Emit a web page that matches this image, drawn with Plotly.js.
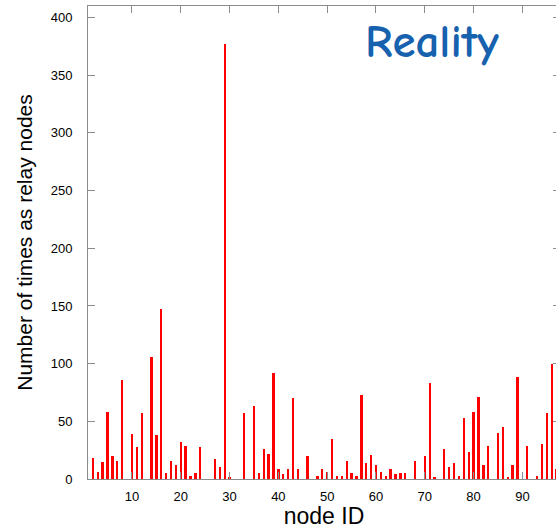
<!DOCTYPE html>
<html>
<head>
<meta charset="utf-8">
<script src="https://cdn.plot.ly/plotly-3.0.1.min.js"></script>
<style>
html, body { margin: 0; padding: 0; overflow: hidden; background: #fff; }
#chart { width: 564px; height: 529px; }
</style>
</head>
<body>
<div id="chart"></div>
<script>
// node IDs and number of times each served as a relay node
const nodeIds = [2, 3, 4, 5, 6, 7, 8, 10, 11, 12, 14, 15, 16, 17, 18, 19, 20, 21, 22, 23, 24,
  27, 28, 29, 30, 33, 35, 36, 37, 38, 39, 40, 41, 42, 43, 44, 46, 48, 49, 50,
  51, 52, 53, 54, 55, 56, 57, 58, 59, 60, 61, 62, 63, 64, 65, 66, 68, 70, 71, 72,
  74, 75, 76, 77, 78, 79, 80, 81, 82, 83, 85, 86, 87, 88, 89, 91, 93, 94, 95, 96, 97];
const relayCounts = [18, 6, 15, 58, 20, 16, 86, 39, 28, 57, 106, 38, 147, 5, 16, 12, 32, 29, 3, 5, 28,
  17, 10, 377, 2, 57, 63, 5, 26, 22, 92, 9, 4, 9, 70, 9, 20, 3, 9, 6,
  35, 3, 3, 16, 5, 3, 73, 14, 21, 12, 6, 3, 9, 4, 5, 5, 16, 20, 83, 2,
  26, 10, 14, 3, 53, 23, 58, 71, 12, 29, 40, 45, 2, 12, 88, 29, 3, 30, 57, 100, 9];
const yTicks = [0, 50, 100, 150, 200, 250, 300, 350, 400];
const xTicks = [10, 20, 30, 40, 50, 60, 70, 80, 90];
const chartTitle = "Reality";
const xTitle = "node ID";
const yTitle = "Number of times as relay nodes";

const font = "Liberation Sans, Arial, Helvetica, sans-serif";
const frame = "#8c8c8c";

const trace = {
  type: "bar",
  x: nodeIds,
  y: relayCounts,
  width: 0.48,
  marker: { color: "#ff0000", line: { width: 0 } },
  hoverinfo: "x+y"
};

const layout = {
  width: 564,
  height: 529,
  margin: { l: 88, r: 4, t: 6, b: 50, pad: 0 },
  paper_bgcolor: "#ffffff",
  plot_bgcolor: "#ffffff",
  showlegend: false,
  bargap: 0,
  font: { family: font, color: "#000" },
  xaxis: {
    range: [1, 97.7],
    tickmode: "array",
    tickvals: xTicks,
    ticktext: xTicks.map(String),
    ticks: "inside",
    ticklen: 7,
    tickwidth: 1,
    tickcolor: frame,
    showline: true,
    linecolor: frame,
    linewidth: 1,
    mirror: "ticks",
    showgrid: false,
    zeroline: false,
    ticklabelstandoff: 5,
    tickfont: { size: 13, family: font, color: "#000" },
    title: { text: xTitle, font: { size: 23, family: font, color: "#000" }, standoff: 2 }
  },
  yaxis: {
    range: [0, 410],
    tickmode: "array",
    tickvals: yTicks,
    ticktext: yTicks.map(String),
    ticks: "inside",
    ticklen: 7,
    tickwidth: 1,
    tickcolor: frame,
    showline: true,
    linecolor: frame,
    linewidth: 1,
    mirror: "ticks",
    showgrid: false,
    zeroline: false,
    ticklabelstandoff: 12,
    tickfont: { size: 13, family: font, color: "#000" },
    title: { text: yTitle, font: { size: 21, family: font, color: "#000" }, standoff: 12 }
  },
  annotations: [{
    text: "<b>" + chartTitle + "</b>",
    xref: "paper", yref: "paper",
    x: 0.583, y: 0.985,
    xanchor: "left", yanchor: "top",
    showarrow: false,
    font: { family: "Comic Sans MS, Comic Neue, Lato, sans-serif", size: 47, color: "#1762ae" }
  }]
};

Plotly.newPlot("chart", [trace], layout, { displayModeBar: false, staticPlot: true });
</script>
</body>
</html>
